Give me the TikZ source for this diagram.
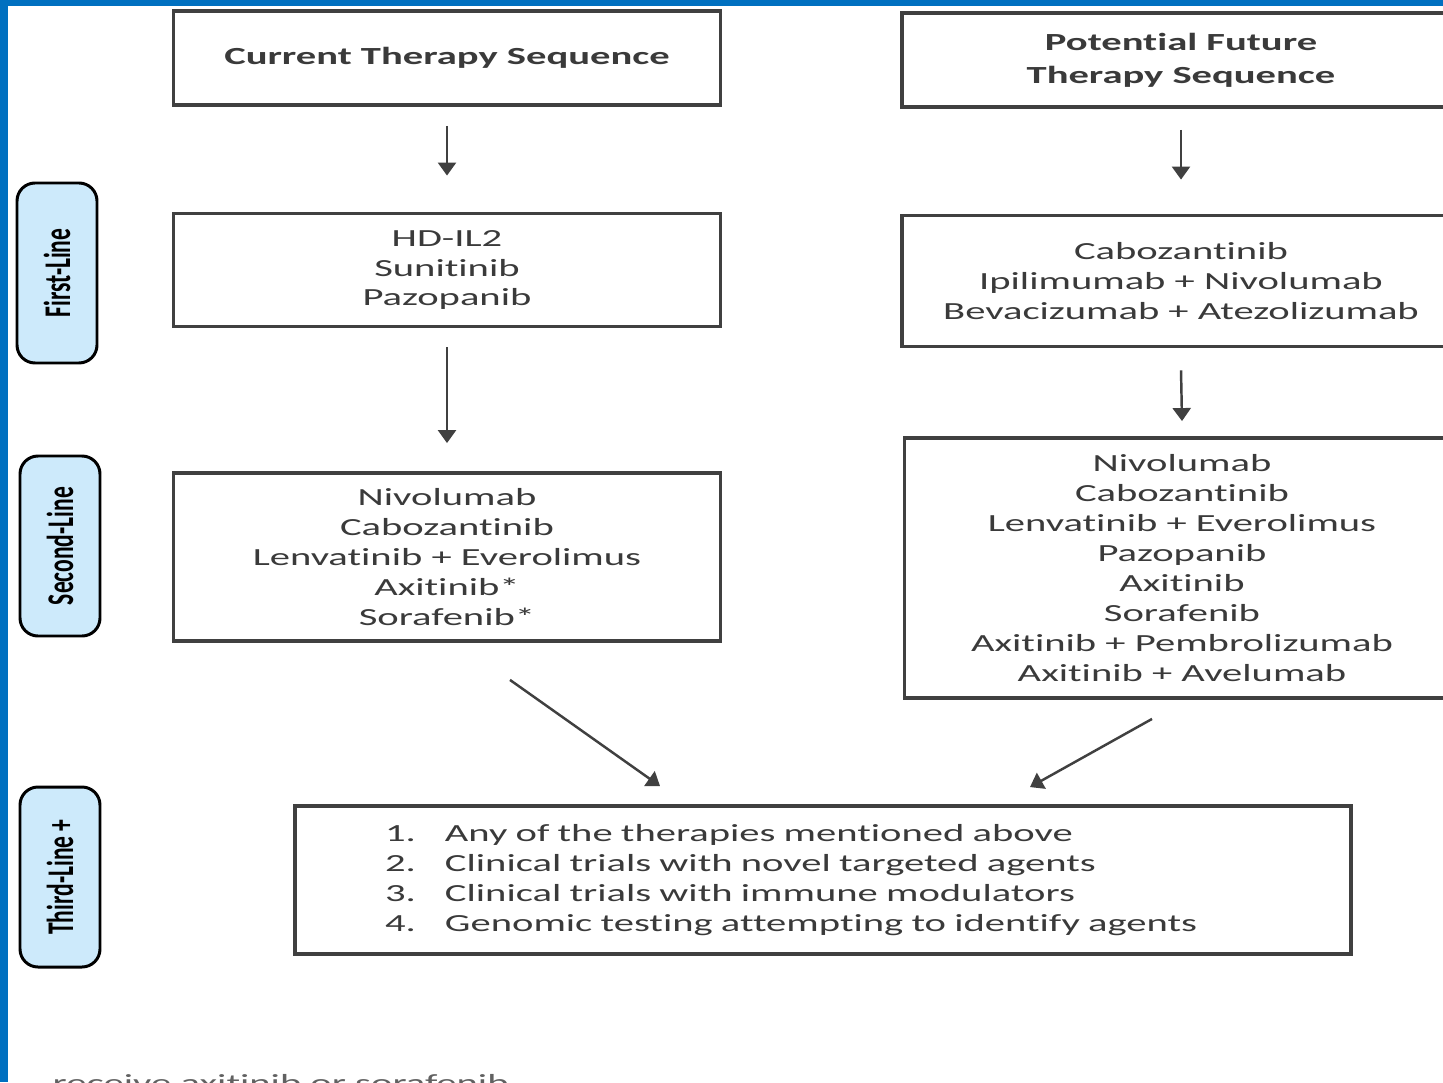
\documentclass[tikz,border=0pt]{standalone}
\usepackage{fontspec}
\usepackage{graphicx}
\usetikzlibrary{arrows.meta}
\setmainfont{Carlito}[FakeStretch=1.65,Ligatures=NoCommon]
\newfontfamily\sidefont{Carlito}
\definecolor{rcFrame}{HTML}{0070C0}
\definecolor{rcGray}{HTML}{404040}
\definecolor{rcText}{HTML}{3A3A3A}
\definecolor{rcSide}{HTML}{CDEAFB}
\newcommand{\sidetext}[1]{\rotatebox{90}{\scalebox{1}[1.6]{\sidefont\bfseries #1}}}

\begin{document}
\begin{tikzpicture}[x=0.1mm,y=-0.1mm,
		seqbox/.style={draw=rcGray,line width=1.1pt,align=center,text=rcText,inner sep=0pt,font=\fontsize{7}{8.5}\selectfont},
		headbox/.style={seqbox,font=\bfseries\fontsize{7}{9.3}\selectfont},
		sidebox/.style={draw=black,fill=rcSide,line width=0.85pt,rounded corners=1.8mm,minimum width=8mm,minimum height=18mm,inner sep=0pt,font=\fontsize{6.7}{8}\selectfont},
		flow/.style={draw=rcGray,line width=0.7pt,-{Triangle[length=1.3mm,width=1.8mm]}}]
		\clip (0,0) rectangle (1443,1082);
		\fill[white] (0,0) rectangle (1443,1082);
		\node[headbox,minimum width=54.7mm,minimum height=9.4mm] (cur) at (447,58) {Current Therapy Sequence};
		\node[headbox,minimum width=55.8mm,minimum height=9.4mm] (fut) at (1181,60) {Potential Future\\Therapy Sequence};
		\node[seqbox,minimum width=54.7mm,minimum height=11.3mm] (cur1) at (447,270) {HD-IL2\\Sunitinib\\Pazopanib};
		\node[seqbox,minimum width=55.8mm,minimum height=13.1mm] (fut1) at (1181,281) {Cabozantinib\\Ipilimumab + Nivolumab\\Bevacizumab + Atezolizumab};
		\node[seqbox,minimum width=54.7mm,minimum height=16.8mm] (cur2) at (447,557) {Nivolumab\\Cabozantinib\\Lenvatinib + Everolimus\\Axitinib*\\Sorafenib*};
		\node[seqbox,minimum width=55.5mm,minimum height=26mm] (fut2) at (1182,568) {Nivolumab\\Cabozantinib\\Lenvatinib + Everolimus\\Pazopanib\\Axitinib\\Sorafenib\\Axitinib + Pembrolizumab\\Axitinib + Avelumab};
		\node[seqbox,text width=87.6mm,inner xsep=9mm,minimum height=14.8mm,align=left] (later) at (823,880) {\makebox[6mm][l]{1.}Any of the therapies mentioned above\\\makebox[6mm][l]{2.}Clinical trials with novel targeted agents\\\makebox[6mm][l]{3.}Clinical trials with immune modulators\\\makebox[6mm][l]{4.}Genomic testing attempting to identify agents};
		\node[sidebox] (first) at (57,273) {\sidetext{First-Line}};
		\node[sidebox] (second) at (60,546) {\sidetext{Second-Line}};
		\node[sidebox] (third) at (60,877) {\sidetext{Third-Line +}};
		\draw[flow] ([yshift=-1.9mm]cur.south) -- ([yshift=3.6mm]cur1.north);
		\draw[flow] ([yshift=-2.1mm]fut.south) -- ([yshift=3.4mm]fut1.north);
		\draw[flow] ([yshift=-1.9mm]cur1.south) -- ([yshift=2.8mm]cur2.north);
		\draw[flow] ([yshift=-2.2mm]fut1.south) -- ([yshift=1.5mm]fut2.north);
		\draw[flow] ([xshift=6.3mm,yshift=-3.7mm]cur2.south) -- ([xshift=-16.3mm,yshift=1.8mm]later.north);
		\draw[flow] ([xshift=-3mm,yshift=-1.9mm]fut2.south) -- ([xshift=20.7mm,yshift=1.7mm]later.north);
		\node[anchor=base west,inner sep=0pt,text=rcText!80,font=\fontsize{7}{8.5}\selectfont] (note) at (52,1091) {receive axitinib or sorafenib.};
		\fill[rcFrame] (0,0) rectangle (8,1082);
		\fill[rcFrame] (0,0) rectangle (1443,6);
	\end{tikzpicture}
\end{document}
